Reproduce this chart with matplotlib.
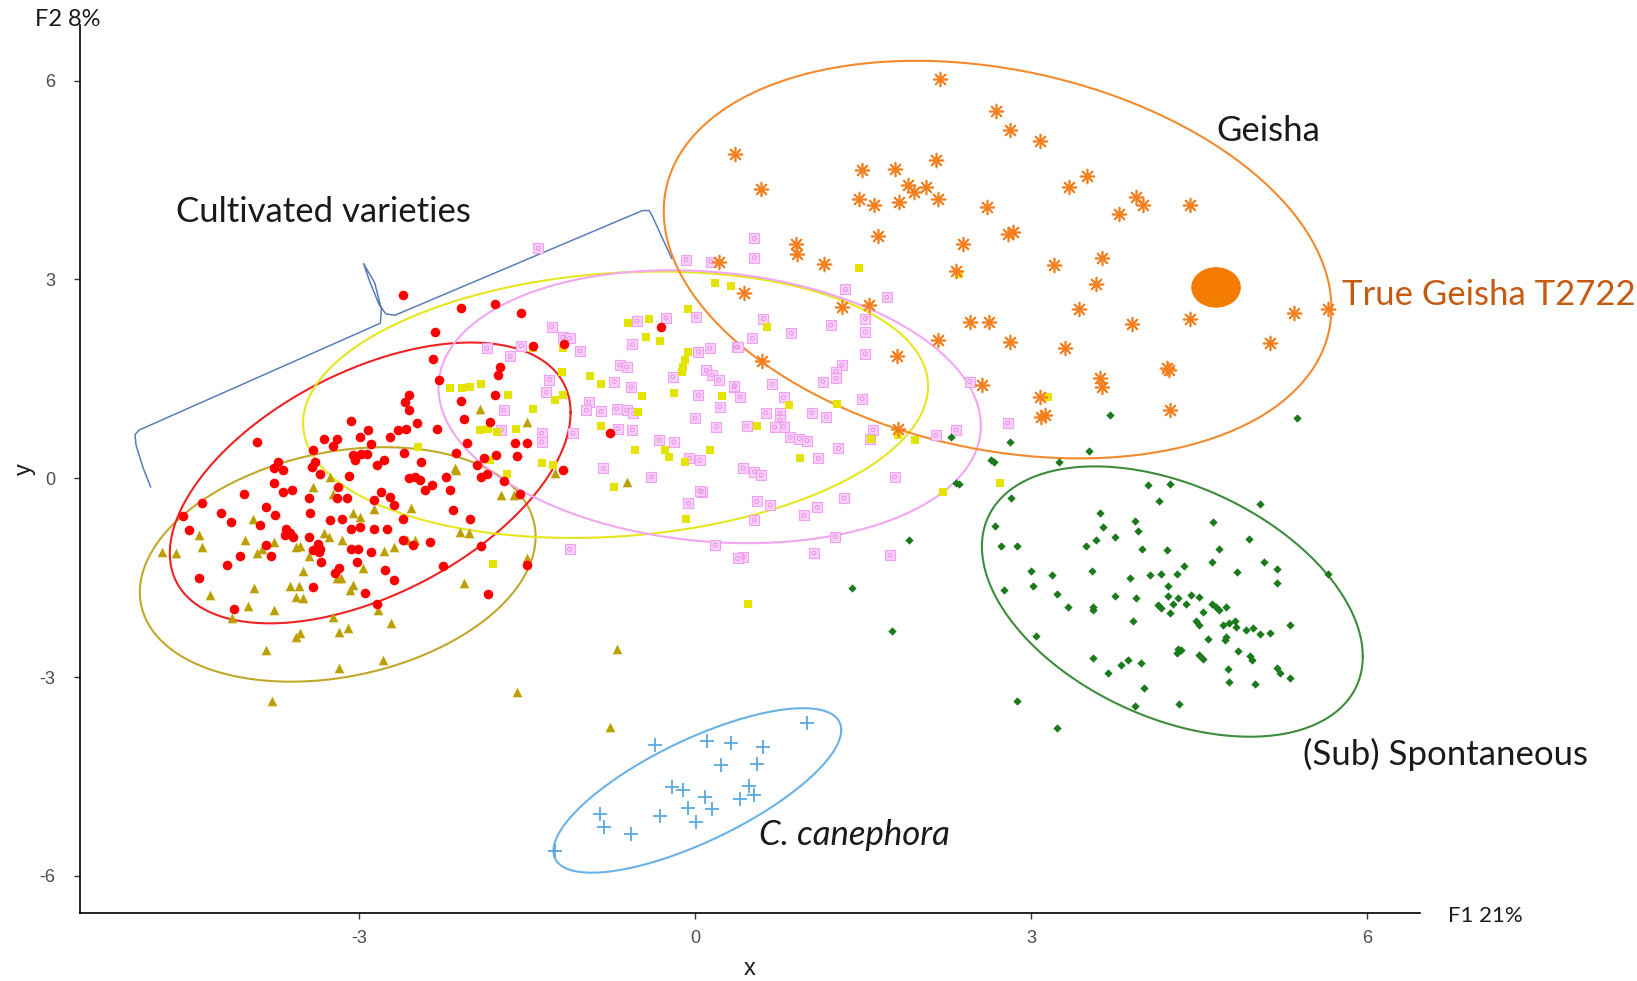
import numpy as np
import matplotlib.pyplot as plt
from matplotlib.patches import Ellipse

plt.rcParams['font.family'] = ['Lato', 'DejaVu Sans']
plt.rcParams['axes.unicode_minus'] = False

# PCA scores per group (F1, F2)
red_x = [-2.61, -2.32, -2.34, -2.29, -2.55, -2.59, -2.55, -3.07, -2.92, -2.99, -2.65, -2.58, -2.48, -2.30,
         -2.72, -3.31, -3.20, -3.23, -3.91, -2.89, -3.05, -2.98, -2.93, -3.04, -3.41, -3.39, -2.60, -2.78,
         -2.84, -2.45, -2.13, -3.72, -3.76, -3.68, -3.42, -3.35, -3.09, -2.55, -2.50, -2.46, -2.35, -2.41,
         -2.22, -2.19, -3.19, -3.76, -3.68, -3.60, -4.03, -3.45, -3.20, -3.11, -2.80, -2.72, -2.69, -2.87,
         -2.61, -2.16, -4.40, -4.57, -4.23, -4.14, -3.83, -3.75, -3.44, -3.88, -3.65, -3.62, -3.59, -3.66,
         -3.45, -3.26, -3.15, -3.07, -2.99, -2.87, -2.75, -4.52, -3.37, -3.35, -3.41, -3.36, -3.83, -3.79,
         -4.06, -4.18, -3.07, -3.01, -2.89, -3.34, -3.02, -3.18, -3.21, -2.77, -2.69, -2.37, -2.25, -2.61,
         -2.52, -4.43, -3.41, -2.95, -4.12, -2.84, -2.09, -1.79, -1.55, -1.45, -1.17, -0.30, -1.74, -1.76,
         -2.09, -1.79, -2.06, -1.83, -2.04, -1.61, -1.50, -1.78, -1.59, -1.95, -1.88, -1.18, -0.76, -1.91,
         -1.86, -1.71, -1.56, -2.01, -1.91, -1.50, -1.85]
red_y = [2.76, 2.21, 1.80, 1.48, 1.25, 1.15, 1.03, 0.86, 0.73, 0.63, 0.73, 0.75, 0.83, 0.75,
         0.63, 0.59, 0.59, 0.48, 0.55, 0.52, 0.35, 0.37, 0.37, 0.27, 0.43, 0.25, 0.38, 0.27,
         0.20, 0.25, 0.38, 0.25, 0.15, 0.12, 0.17, 0.07, 0.03, 0.00, 0.02, -0.03, -0.10, -0.18,
         0.02, -0.17, -0.13, -0.07, -0.20, -0.18, -0.24, -0.30, -0.30, -0.30, -0.20, -0.28, -0.40, -0.33,
         -0.62, -0.48, -0.37, -0.57, -0.53, -0.66, -0.43, -0.56, -0.53, -0.71, -0.76, -0.83, -0.88, -0.86,
         -0.88, -0.63, -0.62, -0.77, -0.73, -0.76, -0.76, -0.78, -0.99, -1.06, -1.08, -1.11, -1.01, -1.18,
         -1.17, -1.31, -1.06, -1.06, -1.11, -1.26, -1.26, -1.36, -1.43, -1.38, -1.53, -0.96, -1.33, -0.93,
         -1.01, -1.50, -1.64, -1.73, -1.97, -1.90, 2.57, 2.63, 2.49, 1.99, 2.03, 2.29, 1.68, 1.56,
         1.16, 1.25, 0.89, 0.85, 0.53, 0.53, 0.53, 0.35, 0.33, 0.20, 0.31, 0.12, 0.68, 0.02,
         0.07, -0.04, -0.24, -0.62, -1.02, -1.31, -1.75]

olive_x = [-3.26, -3.23, -3.41, -3.95, -2.99, -3.05, -2.87, -2.54, -4.43, -4.02, -3.76, -3.31, -3.27,
           -3.15, -3.56, -3.53, -4.40, -4.76, -4.63, -3.91, -3.87, -3.45, -2.78, -2.69, -2.57, -2.50,
           -2.96, -3.50, -3.20, -3.16, -3.05, -3.08, -3.94, -3.62, -3.54, -3.56, -3.50, -4.33, -3.99,
           -3.76, -4.13, -3.23, -2.83, -2.71, -3.18, -3.10, -3.53, -3.56, -3.83, -3.18, -2.79, -3.78,
           -2.14, -2.13, -1.73, -1.62, -1.58, -1.25, -2.10, -2.02, -1.50, -2.06, -0.61, -0.70, -1.59,
           -1.92, -1.50, -0.76]
olive_y = [0.02, -0.23, -0.13, -0.61, -0.58, -0.53, -0.47, -0.45, -0.86, -0.93, -0.96, -0.83, -0.88,
           -0.93, -1.04, -1.02, -1.04, -1.11, -1.13, -1.13, -1.06, -1.18, -1.09, -1.04, -0.93, -0.93,
           -1.36, -1.40, -1.51, -1.51, -1.61, -1.69, -1.65, -1.63, -1.63, -1.79, -1.81, -1.76, -1.93,
           -1.99, -2.11, -2.09, -1.99, -2.18, -2.32, -2.26, -2.34, -2.39, -2.59, -2.87, -2.74, -3.36,
           0.15, 0.13, -0.25, -0.25, -0.23, 0.08, -0.81, -0.82, -1.21, -1.58, -0.05, -2.57, -3.22,
           1.04, 0.85, -3.75]

yellow_x = [0.18, 0.32, -0.06, -0.60, -0.41, -0.44, -0.31, -1.45, -1.18, -0.06, -0.09, -0.11, -0.12,
            -1.19, -0.94, -0.84, -2.19, -2.08, -2.01, -1.91, -1.67, -1.25, -1.18, -0.47, -0.19, 0.24,
            -1.45, -0.51, -1.92, -1.85, -1.77, -1.60, -0.84, -0.54, -0.27, -0.23, 0.13, -1.37, -1.27,
            -1.68, -1.83, -2.47, -0.09, -1.80, -0.72, -0.08, 1.46, 0.64, 0.84, 1.27, 0.55, 0.94, 1.57,
            1.81, 1.96, 2.21, 2.72, 0.47, 3.15, 2.36, 0.64]
yellow_y = [2.95, 2.90, 2.56, 2.34, 2.41, 2.13, 2.07, 1.96, 1.96, 1.91, 1.78, 1.68, 1.60,
            1.61, 1.54, 1.42, 1.36, 1.36, 1.38, 1.42, 1.25, 1.18, 1.25, 1.24, 1.29, 1.24,
            1.05, 1.00, 0.73, 0.75, 0.70, 0.75, 0.79, 0.43, 0.43, 0.32, 0.43, 0.23, 0.20,
            0.07, 0.27, 0.47, 0.25, -1.29, -0.13, -0.62, 3.18, 2.28, 1.11, 1.12, 0.79, 0.31, 0.59,
            0.65, 0.58, -0.20, -0.07, -1.90, 1.23, 3.09, 2.29]

pink_x = [-1.40, -0.08, 0.14, -1.28, -0.52, -0.26, 0.01, -1.18, -1.12, -1.03, -1.55, -1.86, -1.65,
          -0.56, 0.37, 0.03, 0.13, -0.67, -0.61, -1.30, -0.72, -0.57, -0.20, 0.10, 0.15, 0.21, 0.35,
          -1.33, 0.03, 0.22, -0.95, -0.97, -0.84, -0.70, -0.61, -0.55, -0.00, -1.71, -1.37, -1.09,
          -0.69, -0.56, 0.19, -0.32, -0.19, -0.05, 0.04, -0.82, -0.39, -1.73, 0.53, 0.53, 1.34, 1.71,
          0.61, 0.86, 1.21, 1.52, 1.52, 0.51, 0.38, 1.52, 1.31, 1.26, 1.26, 1.14, 0.69, 0.35, 0.40,
          1.49, 0.79, 0.63, 0.76, 0.76, 0.79, 1.04, 1.17, 0.46, 0.71, 0.85, 0.93, 1.00, 1.59, 1.56,
          1.28, 1.10, 0.43, 0.53, 0.59, 2.15, 2.33, 2.79, 2.45, 1.78, 0.06, 0.55, 0.67, 1.33, 1.09,
          0.97, 0.53, 1.25, 0.18, 0.43, 1.06, 1.74, 0.04, -0.06, -1.12, 0.38, -1.37]
pink_y = [3.47, 3.30, 3.27, 2.29, 2.37, 2.42, 2.44, 2.13, 2.11, 1.92, 2.00, 1.96, 1.84,
          2.02, 1.98, 1.91, 1.96, 1.71, 1.68, 1.49, 1.46, 1.38, 1.53, 1.63, 1.56, 1.48, 1.38,
          1.30, 1.25, 1.08, 1.15, 1.03, 1.01, 1.05, 1.03, 0.98, 0.91, 1.03, 0.68, 0.68,
          0.75, 0.73, 0.78, 0.58, 0.55, 0.30, 0.27, 0.15, 0.02, 0.73, 3.62, 3.33, 2.85, 2.73,
          2.41, 2.19, 2.31, 2.41, 2.21, 2.11, 1.98, 1.88, 1.71, 1.61, 1.51, 1.46, 1.42, 1.40, 1.23,
          1.20, 1.22, 0.99, 0.98, 0.88, 0.78, 0.99, 0.93, 0.79, 0.77, 0.62, 0.60, 0.57, 0.73, 0.59,
          0.45, 0.30, 0.15, 0.10, 0.05, 0.65, 0.73, 0.83, 1.46, 0.02, -0.20, -0.35, -0.40, -0.30, -0.44,
          -0.56, -0.63, -0.88, -1.01, -1.19, -1.13, -1.16, -0.19, -0.38, -1.07, -1.21, 0.55]

orange_x = [2.19, 2.69, 2.81, 3.08, 0.36, 2.15, 1.49, 1.78, 1.90, 1.95, 2.06, 2.17, 0.59, 1.46, 1.60,
            1.82, 2.61, 2.79, 2.84, 1.63, 2.39, 0.90, 0.91, 3.20, 1.15, 0.21, 2.33, 0.44, 1.31, 1.55,
            2.45, 2.62, 3.50, 3.34, 3.94, 4.00, 3.78, 4.42, 3.63, 3.58, 3.43, 3.90, 4.42, 5.35, 5.65,
            2.81, 3.30, 5.13, 4.21, 4.23, 3.61, 3.63, 2.56, 3.08, 3.12, 3.09, 4.24, 2.17, 1.80, 0.60,
            1.81]
orange_y = [6.02, 5.55, 5.26, 5.09, 4.89, 4.81, 4.65, 4.67, 4.42, 4.32, 4.39, 4.21, 4.37, 4.21, 4.12,
            4.17, 4.09, 3.69, 3.72, 3.65, 3.53, 3.53, 3.39, 3.22, 3.24, 3.27, 3.13, 2.80, 2.59, 2.61,
            2.36, 2.36, 4.56, 4.39, 4.25, 4.12, 3.99, 4.12, 3.32, 2.93, 2.55, 2.33, 2.40, 2.50, 2.56,
            2.06, 1.97, 2.04, 1.66, 1.63, 1.51, 1.38, 1.41, 1.23, 0.95, 0.93, 1.03, 2.09, 1.84, 1.77,
            0.75]

green_x = [2.81, 3.52, 2.64, 2.67, 3.25, 4.04, 4.24, 2.82, 4.14, 5.04, 3.61, 3.93, 4.62, 2.68, 3.64,
           3.95, 3.75, 3.58, 4.94, 2.73, 2.87, 3.49, 3.99, 4.21, 4.68, 4.36, 4.61, 5.08, 5.19, 3.00,
           3.19, 3.54, 4.06, 4.16, 4.30, 4.84, 5.65, 3.88, 5.19, 3.02, 2.76, 4.22, 3.23, 3.75, 3.94,
           4.22, 4.31, 4.38, 4.27, 4.43, 4.50, 3.33, 3.55, 3.55, 4.13, 4.16, 4.24, 4.53, 4.61, 4.65,
           4.68, 4.74, 3.91, 4.47, 4.50, 4.71, 4.77, 4.82, 4.83, 4.92, 4.98, 5.04, 5.13, 5.31, 4.58,
           4.73, 4.74, 3.04, 4.31, 4.30, 4.34, 4.50, 4.53, 4.85, 4.95, 4.97, 3.55, 3.80, 3.86, 3.98,
           3.69, 4.76, 5.19, 5.22, 5.31, 4.77, 5.00, 4.01, 4.32, 3.93, 2.87, 3.23, 3.70, 5.37, 2.36,
           2.33, 1.91, 1.40, 1.76, 2.28]
green_y = [0.55, 0.41, 0.27, 0.25, 0.25, -0.10, -0.08, -0.30, -0.34, -0.39, -0.52, -0.64, -0.66, -0.72, -0.74,
           -0.79, -0.88, -0.93, -0.92, -1.02, -1.02, -1.02, -1.06, -1.08, -1.07, -1.32, -1.27, -1.27, -1.37, -1.40,
           -1.46, -1.40, -1.465, -1.45, -1.45, -1.42, -1.44, -1.51, -1.58, -1.62, -1.69, -1.62, -1.74, -1.78, -1.81,
           -1.77, -1.81, -1.89, -1.89, -1.76, -1.79, -1.94, -1.94, -1.99, -1.91, -1.96, -2.04, -2.02, -1.89, -1.94,
           -1.99, -1.94, -2.15, -2.16, -2.22, -2.21, -2.19, -2.16, -2.24, -2.29, -2.26, -2.35, -2.33, -2.22, -2.42,
           -2.44, -2.39, -2.38, -2.57, -2.64, -2.59, -2.67, -2.73, -2.60, -2.68, -2.74, -2.71, -2.81, -2.74, -2.78,
           -2.94, -2.88, -2.87, -2.94, -3.01, -3.08, -3.11, -3.16, -3.40, -3.44, -3.36, -3.77, 0.95, 0.91, -0.08,
           -0.07, -0.93, -1.65, -2.30, 0.62]

blue_x = [1.00, -0.36, 0.11, 0.32, 0.61, 0.23, 0.55, -0.21, -0.11, 0.09, 0.48, 0.53, 0.40, -0.06,
          0.15, 0.01, -0.31, -0.85, -0.81, -0.57, -1.25]
blue_y = [-3.69, -4.02, -3.96, -4.00, -4.05, -4.33, -4.31, -4.66, -4.70, -4.81, -4.64, -4.78, -4.84, -4.98,
          -4.99, -5.18, -5.10, -5.06, -5.26, -5.37, -5.63]

# True Geisha reference accession
t2722 = (4.65, 2.88)

# confidence ellipses: centre and shape matrix
ell_centers = {'olive': (-3.19, -1.30), 'red': (-2.90, -0.07), 'yellow': (-0.71, 1.11),
               'pink': (0.13, 1.08), 'orange': (2.70, 3.30), 'green': (4.26, -1.86),
               'blue': (0.02, -4.71)}
ell_shapes = {'olive': [[3.12, 0.74], [0.74, 3.13]], 'red': [[3.20, 1.90], [1.90, 4.49]],
              'yellow': [[7.78, 0.78], [0.78, 4.04]], 'pink': [[5.86, -0.70], [-0.70, 4.24]],
              'orange': [[8.88, -2.18], [-2.18, 9.00]], 'green': [[2.89, -1.41], [-1.41, 4.16]],
              'blue': [[1.65, 1.17], [1.17, 1.54]]}
ell_colors = {'olive': '#C2A82A', 'red': '#EE2222', 'yellow': '#E6E61E', 'pink': '#F2A6F2',
              'orange': '#F28A2E', 'green': '#3C8C3C', 'blue': '#6AB2E4'}

# brace over the cultivated groups
brace_x = [-4.86, -4.93, -4.99, -5.00, -4.96, -2.81, -2.80, -2.86, -2.96, -2.90, -2.82, -2.76, -2.68,
           -0.47, -0.41, -0.38, -0.21]
brace_y = [-0.13, 0.17, 0.50, 0.66, 0.73, 2.34, 2.55, 2.95, 3.24, 2.95, 2.62, 2.48, 2.46,
           4.04, 4.04, 3.95, 3.32]

fig = plt.figure(figsize=(16.37, 9.81), dpi=100)
ax = fig.add_axes([0.0489, 0.0693, 0.8185, 0.9052])

t = np.linspace(0, 2 * np.pi, 300)
for key in ['olive', 'red', 'yellow', 'pink', 'orange', 'green', 'blue']:
    L = np.linalg.cholesky(np.array(ell_shapes[key]))
    pts = L @ np.vstack([np.cos(t), np.sin(t)])
    cx, cy = ell_centers[key]
    ax.plot(cx + pts[0], cy + pts[1], color=ell_colors[key], lw=1.5, zorder=2)

ax.scatter(olive_x, olive_y, marker='^', s=48, color='#BCA000', lw=0, zorder=3)
ax.scatter(pink_x, pink_y, marker='s', s=55, facecolor='#F9CFF9', edgecolor='#EFA2EF', lw=0.8, zorder=3)
ax.scatter(pink_x, pink_y, marker='o', s=8, facecolor='none', edgecolor='#E68AE6', lw=0.6, zorder=3)
ax.scatter(yellow_x, yellow_y, marker='s', s=40, color='#E4E400', lw=0, zorder=3)
ax.scatter(red_x, red_y, marker='o', s=48, color='#FF0000', lw=0, zorder=3)
ax.scatter(green_x, green_y, marker='D', s=18, color='#1B7A1B', lw=0, zorder=3)
ax.scatter(orange_x, orange_y, marker=(8, 2, 0), s=100, color='#F47F1E', lw=1.2, zorder=4)
ax.scatter(blue_x, blue_y, marker='+', s=110, color='#5AA8E0', lw=1.3, zorder=4)

ax.add_patch(Ellipse(t2722, 0.43, 0.59, color='#F47C00', zorder=5))

ax.plot(brace_x, brace_y, color='#5B7DB8', lw=1.1, zorder=2)

txt = '#1A1A1A'
fs = 25
ax.text(-3.32, 4.02, 'Cultivated varieties', fontsize=fs, color=txt, ha='center', va='center')
ax.text(5.12, 5.24, 'Geisha', fontsize=fs, color=txt, ha='center', va='center')
ax.text(5.77, 2.76, 'True Geisha T2722', fontsize=fs, color='#C55A11', ha='left', va='center',
        clip_on=False)
ax.text(6.70, -4.16, '(Sub) Spontaneous', fontsize=fs, color=txt, ha='center', va='center',
        clip_on=False)
ax.text(1.42, -5.39, 'C. canephora', fontsize=fs, color=txt, ha='center', va='center', style='italic')

ax.set_xlim(-5.49, 6.47)
ax.set_ylim(-6.56, 6.84)
ax.set_xticks([-3, 0, 3, 6])
ax.set_yticks([-6, -3, 0, 3, 6])
ax.tick_params(labelsize=13, labelcolor='#4D4D4D', color='#333333', length=4, width=1)
ax.tick_params(axis='x', pad=8)
ax.tick_params(axis='y', pad=14)
for lab in ax.get_xticklabels() + ax.get_yticklabels():
    lab.set_family('Liberation Sans')
ax.set_xlabel('x', fontsize=17, color='#1A1A1A', labelpad=8, family='Liberation Sans')
ax.set_ylabel('y', fontsize=17, color='#1A1A1A', labelpad=2, family='Liberation Sans')
for side in ['top', 'right']:
    ax.spines[side].set_visible(False)
for side in ['left', 'bottom']:
    ax.spines[side].set_linewidth(1.2)

fig.text(0.0415, 0.980, 'F2 8%', fontsize=17, color=txt, ha='center', va='center')
fig.text(0.9073, 0.0663, 'F1 21%', fontsize=16, color=txt, ha='center', va='center')

fig.savefig('out.png', dpi=100)
